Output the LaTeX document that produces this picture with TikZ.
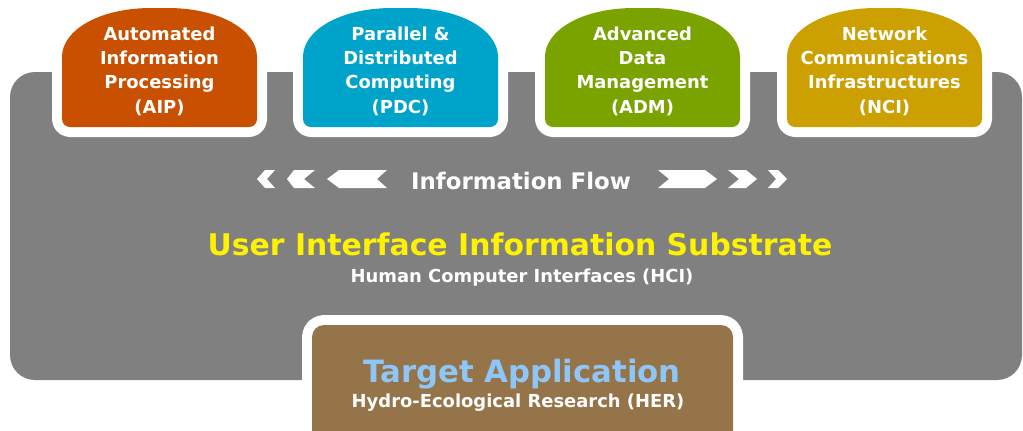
\documentclass[tikz,border=0pt]{standalone}
\usepackage{fontspec}
\setsansfont{DejaVu Sans}
\renewcommand{\familydefault}{\sfdefault}
\definecolor{aipcol}{HTML}{C85000}
\definecolor{pdccol}{HTML}{00A3CA}
\definecolor{admcol}{HTML}{7AA300}
\definecolor{ncicol}{HTML}{CCA000}
\definecolor{substrate}{HTML}{808080}
\definecolor{hercol}{HTML}{967449}
\definecolor{targetblue}{HTML}{8EC6F8}

\begin{document}
\begin{tikzpicture}[x=0.02cm,y=-0.02cm,
    tabtext/.style={align=center,inner sep=0pt,text=white,
      font=\bfseries\fontsize{10.2}{13.8}\selectfont},
    whiteframe/.style={preaction={draw=white,line width=0.4cm,line join=round}},
    flowarrow/.style={fill=white}]
   \useasboundingbox (0,0) rectangle (1023,430);
   \clip (0,0) rectangle (1023,430);
   % substrate
   \fill[substrate,rounded corners=0.5cm] (10,72) rectangle (1022,380);
   % the four tabs on top
   \foreach \name/\c/\col/\txt in {
       aip/159.5/aipcol/{Automated\\Information\\Processing\\(AIP)},
       pdc/400.5/pdccol/{Parallel \&\\Distributed\\Computing\\(PDC)},
       adm/642.5/admcol/{Advanced\\Data\\Management\\(ADM)},
       nci/884.5/ncicol/{Network\\Communications\\Infrastructures\\(NCI)}}
   {
     \path[whiteframe,fill=\col,rounded corners=0.16cm]
       ({\c-97.5},65) .. controls ({\c-97.5},30) and ({\c-60},8) .. (\c,8)
       .. controls ({\c+60},8) and ({\c+97.5},30) .. ({\c+97.5},65)
       -- ({\c+97.5},127) -- ({\c-97.5},127) -- cycle;
     \node[tabtext] (\name) at (\c,71) {\txt};
   }
   % information flow
   \node[text=white,font=\bfseries\fontsize{13}{15}\selectfont,anchor=base]
     (flow) at (521,189) {Information Flow};
   \fill[flowarrow] (257,179) -- (265,170) -- (275,170) -- (267,179) -- (275,188) -- (265,188) -- cycle;
   \fill[flowarrow] (287,179) -- (294,170) -- (315,170) -- (304,179) -- (315,188) -- (294,188) -- cycle;
   \fill[flowarrow] (327,179) -- (339,170) -- (387,170) -- (377,179) -- (387,188) -- (339,188) -- cycle;
   \fill[flowarrow] (658,170) -- (705,170) -- (717,179) -- (705,188) -- (658,188) -- (669,179) -- cycle;
   \fill[flowarrow] (728,170) -- (746,170) -- (757,179) -- (746,188) -- (728,188) -- (739,179) -- cycle;
   \fill[flowarrow] (768,170) -- (778,170) -- (787,179) -- (778,188) -- (768,188) -- (776,179) -- cycle;
   % substrate titles
   \node[text=yellow,font=\bfseries\fontsize{17}{20}\selectfont,anchor=base]
     (uiis) at (520,255) {User Interface Information Substrate};
   \node[text=white,font=\bfseries\fontsize{10.2}{12}\selectfont,anchor=base]
     (hci) at (522,282) {Human Computer Interfaces (HCI)};
   % target application
   \path[whiteframe,fill=hercol,rounded corners=0.24cm] (312,325) rectangle (733,450);
   \node[text=targetblue,font=\bfseries\fontsize{17.5}{20}\selectfont,anchor=base]
     (target) at (522,382) {Target Application};
   \node[text=white,font=\bfseries\fontsize{10.2}{12}\selectfont,anchor=base]
     (her) at (518,407) {Hydro-Ecological Research (HER)};
\end{tikzpicture}
\end{document}
